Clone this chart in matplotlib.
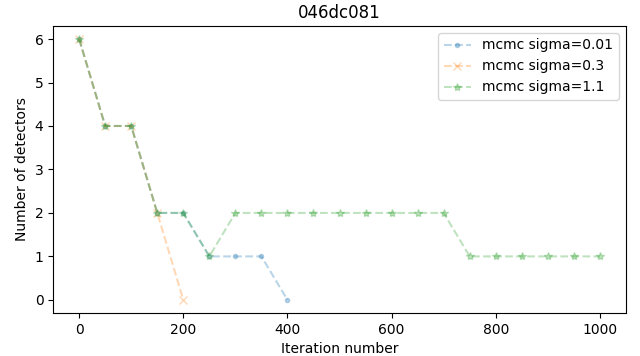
import numpy as np
import matplotlib
matplotlib.use("Agg")
import matplotlib.pyplot as plt

# итерации и число детекторов для каждого sigma
iters_001 = [0, 50, 100, 150, 200, 250, 300, 350, 400]
dets_001 = [6, 4, 4, 2, 2, 1, 1, 1, 0]

iters_03 = [0, 50, 100, 150, 200]
dets_03 = [6, 4, 4, 2, 0]

iters_11 = [0, 50, 100, 150, 200, 250, 300, 350, 400, 450, 500,
            550, 600, 650, 700, 750, 800, 850, 900, 950, 1000]
dets_11 = [6, 4, 4, 2, 2, 1, 2, 2, 2, 2, 2, 2, 2, 2, 2, 1, 1, 1, 1, 1, 1]

fig, ax = plt.subplots(figsize=(6.4, 3.56), dpi=100)
ax.plot(iters_001, dets_001, '.--', alpha=0.3, label='mcmc sigma=0.01')
ax.plot(iters_03, dets_03, 'x--', alpha=0.3, label='mcmc sigma=0.3')
ax.plot(iters_11, dets_11, '*--', alpha=0.3, label='mcmc sigma=1.1')
ax.set_title('046dc081')
ax.set_xlabel('Iteration number')
ax.set_ylabel('Number of detectors')
ax.legend(loc='upper right')
fig.subplots_adjust(left=0.083, right=0.978, top=0.927, bottom=0.121)
fig.savefig('out.png', dpi=100)
